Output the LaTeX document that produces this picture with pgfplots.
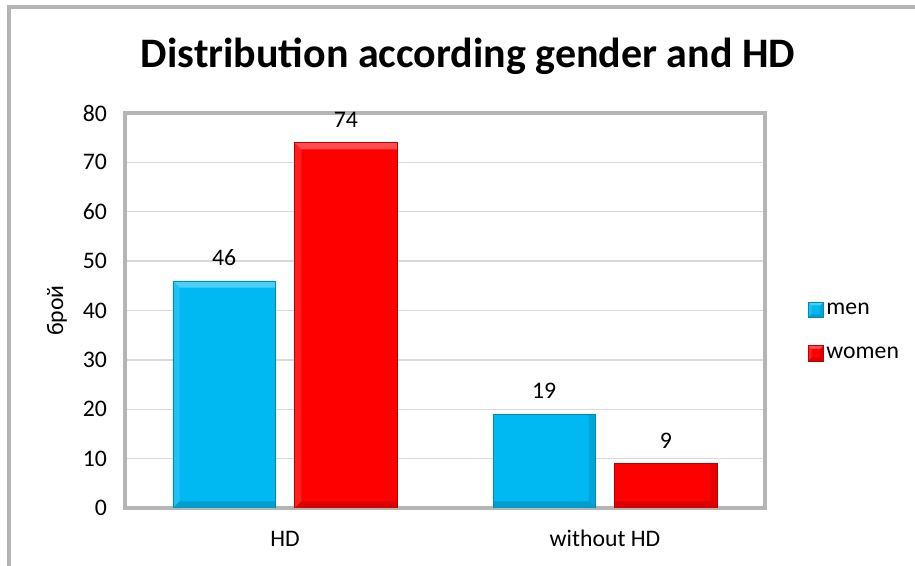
\documentclass[border=0pt]{standalone}
\usepackage{fontspec}
\setmainfont{Carlito}
\usepackage{pgfplots}
\pgfplotsset{compat=1.18}
\definecolor{menc}{HTML}{00B9F2}
\definecolor{womenc}{HTML}{FF0000}
\definecolor{framegray}{HTML}{B5B5B5}
\definecolor{gridgray}{HTML}{D9D9D9}
\tikzset{nopp/.style={path picture={}},
bevel/.style={path picture={
 \path[nopp] (path picture bounding box.south west) coordinate (bsw) (path picture bounding box.north east) coordinate (bne);
 \fill[nopp,draw=none,white,opacity=0.30] (bsw |- bne) -- (bne) -- ([shift={(-#1,-#1)}]bne) -- ([shift={(#1,-#1)}]bsw |- bne) -- cycle;
 \fill[nopp,draw=none,black,opacity=0.15] (bsw) -- (bsw -| bne) -- ([shift={(-#1,#1)}]bsw -| bne) -- ([shift={(#1,#1)}]bsw) -- cycle;
 \fill[nopp,draw=none,black,opacity=0.10] (bne) -- (bsw -| bne) -- ([shift={(-#1,#1)}]bsw -| bne) -- ([shift={(-#1,-#1)}]bne) -- cycle;
 \fill[nopp,draw=none,white,opacity=0.12] (bsw) -- (bsw |- bne) -- ([shift={(#1,-#1)}]bsw |- bne) -- ([shift={(#1,#1)}]bsw) -- cycle;
}}, bevel/.default=5pt}
\newcommand{\lbl}{\fontsize{17.8}{21}\selectfont}
\begin{document}
\begin{tikzpicture}
\useasboundingbox (-93.75pt,-43.5pt) rectangle (592.5pt,381pt);
\begin{scope}
\clip (-93.75pt,-43.5pt) rectangle (592.5pt,381pt);
\draw[framegray,line width=2.4pt] (-87pt,-80pt) rectangle (620pt,375.75pt);
\end{scope}
\node[anchor=base,font=\fontsize{31.5}{36}\selectfont\bfseries] at (257.25pt,330pt) {Distribution according gender and HD};
\begin{axis}[
  at={(0pt,0pt)}, anchor=south west,
  scale only axis, width=480pt, height=296.25pt,
  xmin=-0.5, xmax=1.5, ymin=0, ymax=80,
  ybar, bar width=0.32,
  xtick={0,1}, xticklabels={HD, without HD},
  ytick={0,10,...,80},
  major tick length=0pt,
  ymajorgrids, grid style={gridgray, line width=1.1pt},
  axis line style={framegray, line width=2.4pt},
  tick label style={font=\lbl},
  /pgf/number format/assume math mode=true,
  yticklabel style={xshift=-10pt},
  xticklabel style={anchor=base, yshift=-29.25pt},
  ylabel={брой},
  ylabel style={at={(axis description cs:-0.10625,0.5)}, anchor=center, font=\lbl},
  nodes near coords,
  every node near coord/.append style={font=\lbl, yshift=8pt, text=black, nopp},
  legend style={at={(axis description cs:1,0.446)}, anchor=west, xshift=29pt, draw=none, fill=none, font=\lbl, row sep=18.5pt, legend cell align=left},
  legend image code/.code={\fill[#1,bevel=2.5pt] (0pt,-5.5pt) rectangle (11.5pt,6pt);},
]
\addplot[fill=menc, draw=menc!75!black, line width=0.4pt, bar shift=-0.19, bevel] coordinates {(0,46) (1,19)};
\addplot[fill=womenc, draw=womenc!75!black, line width=0.4pt, bar shift=0.19, bevel] coordinates {(0,74) (1,9)};
\legend{men, women}
\end{axis}
\end{tikzpicture}
\end{document}
